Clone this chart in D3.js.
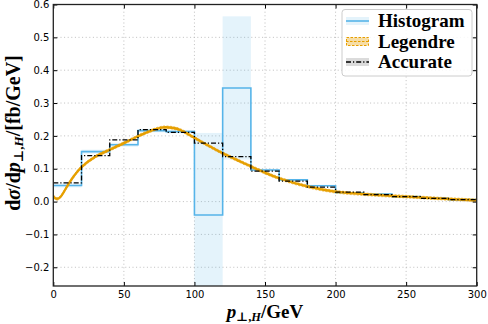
<!DOCTYPE html>
<html>
<head>
<meta charset="utf-8">
<script src="https://cdn.jsdelivr.net/npm/d3@7"></script>
<style>
  body { margin: 0; background: #fff; }
  svg { display: block; }
  .tick text { font-family: "DejaVu Sans", sans-serif; font-size: 10px; fill: #000; }
</style>
</head>
<body>
<svg id="chart" width="488" height="324"></svg>
<script>
// ---- data ----
const binEdges = [0, 20, 40, 60, 80, 100, 120, 140, 160, 180, 200, 220, 240, 260, 280, 300];
const histVals = [0.049, 0.152, 0.173, 0.216, 0.213, -0.041, 0.346, 0.096, 0.066, 0.048, 0.027, 0.023, 0.015, 0.010, 0.006];
const histErr  = [0.006, 0.006, 0.006, 0.005, 0.005, 0.250, 0.218, 0.004, 0.003, 0.003, 0.002, 0.002, 0.002, 0.002, 0.002];
const accVals  = [0.057, 0.140, 0.188, 0.219, 0.211, 0.178, 0.137, 0.093, 0.062, 0.044, 0.029, 0.021, 0.015, 0.010, 0.006];
const legX = [0, 2.5, 5, 10, 15, 20, 30, 40, 50, 60, 70, 78, 85, 90, 100, 110, 120, 130, 140, 150, 160, 180, 200, 225, 250, 275, 300];
const legY = [0.016, 0.008, 0.014, 0.048, 0.08, 0.105, 0.137, 0.158, 0.178, 0.199, 0.217, 0.226, 0.224, 0.218, 0.194, 0.170, 0.147, 0.127, 0.107, 0.088, 0.071, 0.046, 0.030, 0.021, 0.015, 0.009, 0.004];
const legErr = 0.004;
const xTicks = [0, 50, 100, 150, 200, 250, 300];
const yTicks = [-0.2, -0.1, 0, 0.1, 0.2, 0.3, 0.4, 0.5, 0.6];
const legendItems = ["Histogram", "Legendre", "Accurate"];

const blue = "#56B4E9", orange = "#E69F00";

const svg = d3.select("#chart");
const mLeft = 53.3, mRight = 476.7, mTop = 4.5, mBottom = 286;

const x = d3.scaleLinear().domain([0, 300]).range([mLeft, mRight]);
const y = d3.scaleLinear().domain([-0.257, 0.6]).range([mBottom, mTop]);

svg.append("clipPath").attr("id", "clip")
  .append("rect").attr("x", mLeft).attr("y", mTop).attr("width", mRight - mLeft).attr("height", mBottom - mTop);

// grid
const grid = svg.append("g").attr("stroke", "#b8b8b8").attr("stroke-width", 0.9).attr("stroke-dasharray", "1,2.6");
grid.selectAll(".gx").data(xTicks.slice(1, -1)).enter().append("line")
  .attr("x1", d => x(d)).attr("x2", d => x(d)).attr("y1", mTop).attr("y2", mBottom);
grid.selectAll(".gy").data(yTicks.slice(0, -1)).enter().append("line")
  .attr("y1", d => y(d)).attr("y2", d => y(d)).attr("x1", mLeft).attr("x2", mRight);

const plot = svg.append("g").attr("clip-path", "url(#clip)");

// histogram error bands
const bins = histVals.map((v, i) => ({ x0: binEdges[i], x1: binEdges[i + 1], v, e: histErr[i] }));
plot.selectAll(".band").data(bins).enter().append("rect")
  .attr("x", d => x(d.x0)).attr("width", d => x(d.x1) - x(d.x0))
  .attr("y", d => y(d.v + d.e)).attr("height", d => y(d.v - d.e) - y(d.v + d.e))
  .attr("fill", blue).attr("fill-opacity", 0.16);

const stepPts = vals => vals.map((v, i) => [binEdges[i], v]).concat([[300, vals[vals.length - 1]]]);
const step = d3.line().x(d => x(d[0])).y(d => y(d[1])).curve(d3.curveStepAfter);

plot.append("path").attr("d", step(stepPts(histVals)))
  .attr("fill", "none").attr("stroke", blue).attr("stroke-width", 1.6);

// Legendre band + curve
const legPts = legX.map((v, i) => ({ x: v, y: legY[i] }));
plot.append("path")
  .attr("d", d3.area().x(d => x(d.x)).y0(d => y(d.y - legErr)).y1(d => y(d.y + legErr)).curve(d3.curveCatmullRom)(legPts))
  .attr("fill", orange).attr("fill-opacity", 0.35).attr("stroke", orange).attr("stroke-width", 0.6)
  .attr("stroke-dasharray", "2,1.5");
plot.append("path")
  .attr("d", d3.line().x(d => x(d.x)).y(d => y(d.y)).curve(d3.curveCatmullRom)(legPts))
  .attr("fill", "none").attr("stroke", orange).attr("stroke-width", 2.3);

// Accurate
plot.append("path").attr("d", step(stepPts(accVals)))
  .attr("fill", "none").attr("stroke", "#000").attr("stroke-width", 1.3)
  .attr("stroke-dasharray", "5,2,1.2,2");

// axes
const tickFmt = d => d3.format(".1f")(d).replace("-", "\u2212");
svg.append("g").attr("transform", `translate(0,${mBottom})`)
  .call(d3.axisBottom(x).tickValues(xTicks).tickSizeInner(-4).tickSizeOuter(0).tickPadding(5))
  .call(g => g.select(".domain").remove());
svg.append("g").attr("transform", `translate(0,${mTop})`)
  .call(d3.axisTop(x).tickValues(xTicks).tickSizeInner(-4).tickSizeOuter(0).tickFormat(""))
  .call(g => g.select(".domain").remove());
svg.append("g").attr("transform", `translate(${mLeft},0)`)
  .call(d3.axisLeft(y).tickValues(yTicks).tickFormat(tickFmt).tickSizeInner(-4).tickSizeOuter(0).tickPadding(4))
  .call(g => g.select(".domain").remove());
svg.append("g").attr("transform", `translate(${mRight},0)`)
  .call(d3.axisRight(y).tickValues(yTicks).tickSizeInner(-4).tickSizeOuter(0).tickFormat(""))
  .call(g => g.select(".domain").remove());
svg.selectAll(".tick line").attr("stroke", "#000").attr("stroke-width", 1);

svg.append("rect").attr("x", mLeft).attr("y", mTop).attr("width", mRight - mLeft).attr("height", mBottom - mTop)
  .attr("fill", "none").attr("stroke", "#222").attr("stroke-width", 1.3);

// axis labels
const serif = "'Liberation Serif', 'DejaVu Serif', serif";
const xl = svg.append("text").attr("x", 265).attr("y", 318)
  .attr("text-anchor", "middle").attr("font-family", serif).attr("font-size", 19).attr("font-weight", "bold");
xl.append("tspan").attr("font-style", "italic").text("p");
xl.append("tspan").attr("font-size", 12.5).attr("dy", 3).text("\u22A5,");
xl.append("tspan").attr("font-size", 12.5).attr("font-style", "italic").text("H");
xl.append("tspan").attr("dy", -3).text("/GeV");

const yl = svg.append("text").attr("transform", "translate(20,133) rotate(-90)")
  .attr("text-anchor", "middle").attr("font-family", serif).attr("font-size", 20).attr("font-weight", "bold");
yl.append("tspan").text("d");
yl.append("tspan").attr("font-style", "italic").text("\u03C3");
yl.append("tspan").text("/d");
yl.append("tspan").attr("font-style", "italic").text("p");
yl.append("tspan").attr("font-size", 13).attr("dy", 3).text("\u22A5,");
yl.append("tspan").attr("font-size", 13).attr("font-style", "italic").text("H");
yl.append("tspan").attr("dy", -3).text("/[fb/GeV]");

// legend
const lg = svg.append("g");
lg.append("rect").attr("x", 342).attr("y", 9.5).attr("width", 130).attr("height", 66.5).attr("rx", 3)
  .attr("fill", "#fff").attr("fill-opacity", 0.85).attr("stroke", "#ccc").attr("stroke-width", 1);
const items = lg.selectAll(".item").data(legendItems).enter().append("g")
  .attr("transform", (d, i) => `translate(346,${21 + i * 20.5})`);
items.each(function (d, i) {
  const g = d3.select(this);
  if (i === 0) {
    g.append("rect").attr("x", 0).attr("y", -4).attr("width", 23).attr("height", 8).attr("fill", blue).attr("fill-opacity", 0.16);
    g.append("line").attr("x1", 0).attr("x2", 23).attr("stroke", blue).attr("stroke-width", 1.6);
  } else if (i === 1) {
    g.append("rect").attr("x", 0.5).attr("y", -4).attr("width", 22).attr("height", 8).attr("fill", orange).attr("fill-opacity", 0.35)
      .attr("stroke", orange).attr("stroke-width", 1).attr("stroke-dasharray", "2.5,1.5");
    g.append("line").attr("x1", 0).attr("x2", 23).attr("stroke", orange).attr("stroke-width", 1).attr("stroke-dasharray", "2.5,1.5");
  } else {
    g.append("rect").attr("x", 0).attr("y", -4).attr("width", 23).attr("height", 8).attr("fill", "#999").attr("fill-opacity", 0.35);
    g.append("line").attr("x1", 0).attr("x2", 23).attr("stroke", "#000").attr("stroke-width", 1.4).attr("stroke-dasharray", "5,2,1.2,2");
  }
  g.append("text").attr("x", 32).attr("y", 6).attr("font-family", serif).attr("font-size", 19)
    .attr("font-weight", "bold").text(d);
});
</script>
</body>
</html>
